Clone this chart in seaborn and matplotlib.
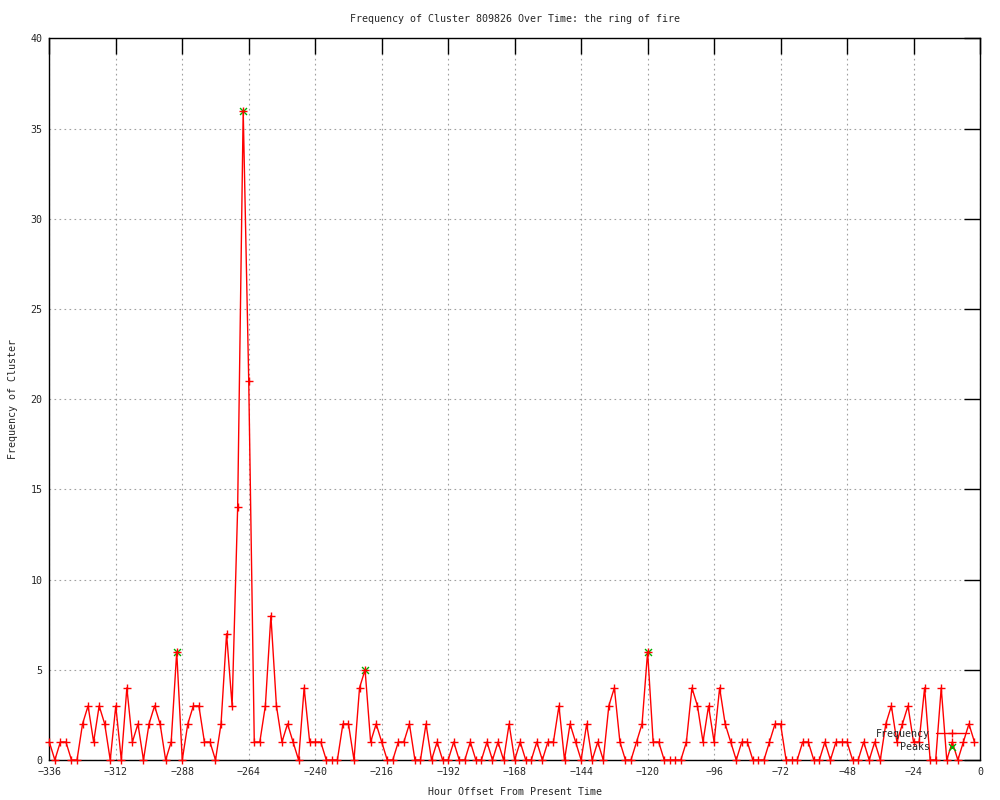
import matplotlib
matplotlib.use("Agg")
import matplotlib.pyplot as plt
import seaborn as sns
import pandas as pd

# hour offsets, one sample every 2 hours
hours = list(range(-336, 0, 2))

# cluster frequency per sample
frequency = [
    1, 0, 1, 1, 0, 0, 2, 3, 1, 3, 2, 0,      # -336 .. -314
    3, 0, 4, 1, 2, 0, 2, 3, 2, 0, 1, 6,      # -312 .. -290
    0, 2, 3, 3, 1, 1, 0, 2, 7, 3, 14, 36,    # -288 .. -266
    21, 1, 1, 3, 8, 3, 1, 2, 1, 0, 4, 1,     # -264 .. -242
    1, 1, 0, 0, 0, 2, 2, 0, 4, 5, 1, 2,      # -240 .. -218
    1, 0, 0, 1, 1, 2, 0, 0, 2, 0, 1, 0,      # -216 .. -194
    0, 1, 0, 0, 1, 0, 0, 1, 0, 1, 0, 2,      # -192 .. -170
    0, 1, 0, 0, 1, 0, 1, 1, 3, 0, 2, 1,      # -168 .. -146
    0, 2, 0, 1, 0, 3, 4, 1, 0, 0, 1, 2,      # -144 .. -122
    6, 1, 1, 0, 0, 0, 0, 1, 4, 3, 1, 3,      # -120 .. -98
    1, 4, 2, 1, 0, 1, 1, 0, 0, 0, 1, 2,      # -96 .. -74
    2, 0, 0, 0, 1, 1, 0, 0, 1, 0, 1, 1,      # -72 .. -50
    1, 0, 0, 1, 0, 1, 0, 2, 3, 1, 2, 3,      # -48 .. -26
    1, 1, 4, 0, 0, 4, 0, 1, 0, 1, 2, 1,      # -24 .. -2
]

peak_hours = [-290, -266, -222, -120]

title = "Frequency of Cluster 809826 Over Time: the ring of fire"
x_label = "Hour Offset From Present Time"
y_label = "Frequency of Cluster"

sns.set_style("white")
plt.rcParams['font.family'] = ['DejaVu Sans Mono']
plt.rcParams['font.size'] = 7.2

df = pd.DataFrame({'hour': hours, 'frequency': frequency})
peaks = df[df['hour'].isin(peak_hours)]

fig = plt.figure(figsize=(10, 8), dpi=100)
ax = fig.add_axes([0.0493, 0.05, 0.9307, 0.902])

sns.lineplot(data=df, x='hour', y='frequency', ax=ax, color='red', lw=1,
             marker='+', markersize=6, markeredgewidth=1, markeredgecolor='red',
             label='Frequency', clip_on=False, zorder=4)
# peaks go under the red crosses so they read as "*"
sns.scatterplot(data=peaks, x='hour', y='frequency', ax=ax, color='#00b000',
                marker='x', s=25, linewidth=1, label='    Peaks', zorder=3,
                clip_on=False)

ax.set_xlim(-336, 0)
ax.set_ylim(0, 40)
ax.set_xticks(range(-336, 1, 24))
ax.set_yticks(range(0, 41, 5))
ax.tick_params(direction='in', length=11.5, width=1, top=True, right=True,
               labelsize=7.2, pad=5, color='black')
ax.grid(True, color='#a0a0a0', linestyle=(0, (1.5, 3)), linewidth=0.8)
ax.set_axisbelow(True)
for s in ax.spines.values():
    s.set_color('black')
    s.set_linewidth(1)

ax.set_title(title, fontsize=7.2, pad=12)
ax.set_xlabel(x_label, fontsize=7.2)
ax.set_ylabel(y_label, fontsize=7.2)
ax.xaxis.set_label_coords(0.5, -0.038)
ax.yaxis.set_label_coords(-0.034, 0.5)

ax.legend(loc='lower right', bbox_to_anchor=(0.988, 0.011), frameon=False,
          markerfirst=False, handlelength=3.3, handletextpad=0.6,
          labelspacing=0.35, borderpad=0, borderaxespad=0, fontsize=7.2)

fig.savefig("out.png", dpi=100)
